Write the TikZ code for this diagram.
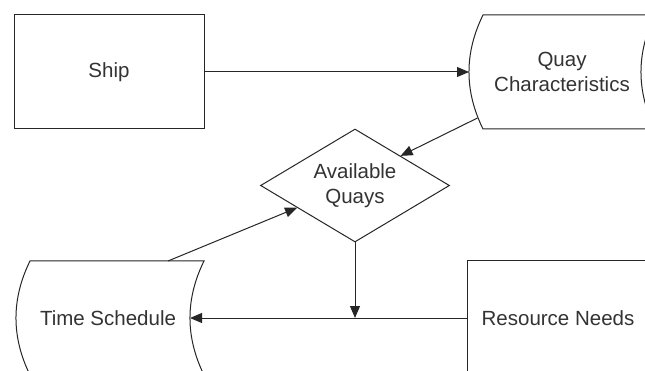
\documentclass[tikz,border=0pt]{standalone}
\usepackage{fontspec}
\setmainfont{Liberation Sans}
\usetikzlibrary{arrows.meta,shapes.geometric}
\begin{document}
\begin{tikzpicture}[x=1pt,y=-1pt,
  line width=1pt,
  color=black!85,
  lbl/.style={font=\fontsize{20.5}{25}\selectfont, text=black!80, align=center, inner sep=0pt},
  procbox/.style={draw, rectangle, minimum width=#1, minimum height=114pt},
  decision/.style={draw, diamond, aspect=1.67, minimum width=189pt, minimum height=113pt},
  flow/.style={-{Triangle[length=12pt,width=10pt]}},
  ]
% page
\fill[white] (0,0) rectangle (645,371);
\useasboundingbox (0,0) rectangle (645,371);

% process boxes
\node[procbox=190pt, lbl] (ship) at (109,72) {Ship};
% Resource Needs runs off the page: only its top and left sides show
\node[procbox=212pt, draw=none] (res) at (574,318) {};
\draw (res.north east) -- (res.north west) -- (res.south west);
\node[lbl] (resText) at (558,318) {Resource Needs};

% stored-data shape: Quay Characteristics
\draw (483,15) -- (655,15) .. controls (636.3,53) and (636.3,91) .. (655,129)
      -- (483,129) .. controls (464.3,91) and (464.3,53) .. (483,15) -- cycle;
\node[lbl] (quay) at (562,72) {Quay\\Characteristics};
\coordinate (quayW) at (469,72);
\coordinate (quaySW) at (477.5,118);

% stored-data shape: Time Schedule
\draw (30,261) -- (204,261) .. controls (185.3,299) and (185.3,337) .. (204,375)
      -- (30,375) .. controls (11.3,337) and (11.3,299) .. (30,261) -- cycle;
\node[lbl] (sched) at (108,318) {Time Schedule};
\coordinate (schedE) at (190,318);
\coordinate (schedN) at (168,261);

% decision
\node[decision, lbl] (avail) at (355,185.5) {Available\\Quays};

% connectors
\draw[flow] (ship.east) -- (quayW);
\draw[flow] (quaySW) -- (avail.33);
\draw[flow] (schedN) -- (avail.201);
\draw[flow] (res.west) -- (schedE);
\coordinate (join) at (avail.south |- res.west);
\draw[flow] (avail.south) -- (join);
\end{tikzpicture}
\end{document}
